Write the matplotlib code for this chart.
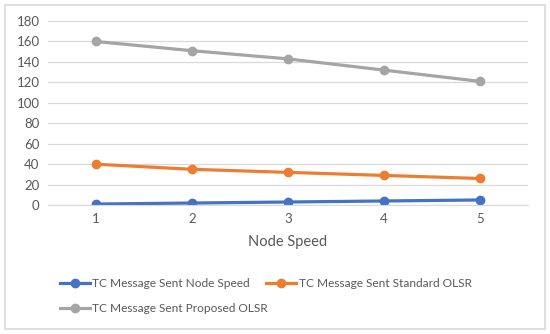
import matplotlib.pyplot as plt
from matplotlib.patches import Rectangle

speed = [1, 2, 3, 4, 5]
node_speed = [1, 2, 3, 4, 5]
standard_olsr = [40, 35, 32, 29, 26]
proposed_olsr = [160, 151, 143, 132, 121]
labels = ["TC Message Sent Node Speed",
          "TC Message Sent Standard OLSR",
          "TC Message Sent Proposed OLSR"]

plt.rcParams['font.family'] = ['Lato', 'DejaVu Sans']
txt = '#595959'

fig = plt.figure(figsize=(5.5, 3.34), dpi=100)
ax = fig.add_axes([0.087, 0.386, 0.873, 0.551])

l1, = ax.plot(speed, node_speed, color='#4472C4', lw=2.3, marker='o', ms=6, label=labels[0])
l2, = ax.plot(speed, standard_olsr, color='#ED7D31', lw=2.3, marker='o', ms=6, label=labels[1])
l3, = ax.plot(speed, proposed_olsr, color='#A5A5A5', lw=2.3, marker='o', ms=6, label=labels[2])

ax.set_xlim(0.5, 5.5)
ax.set_ylim(0, 180)
ax.set_yticks(range(0, 181, 20))
ax.set_xticks(speed)
ax.grid(axis='y', color='#D9D9D9', lw=0.9)
ax.set_axisbelow(True)
for s in ['top', 'right', 'left']:
    ax.spines[s].set_visible(False)
ax.spines['bottom'].set_color('#D9D9D9')
ax.tick_params(length=0, colors=txt, labelsize=9.5, pad=6)
ax.set_xlabel("Node Speed", color=txt, fontsize=10.5, labelpad=7)

# two legends so the entries flow like the original (row 1: two items, row 2: one)
leg_kw = dict(loc='center left', frameon=False, fontsize=8.6, labelcolor=txt,
              handlelength=2.5, handletextpad=0.2, columnspacing=1.4, borderpad=0)
fig.legend([l1, l2], labels[:2], ncol=2, bbox_to_anchor=(0.098, 0.15), **leg_kw)
fig.legend([l3], labels[2:], bbox_to_anchor=(0.098, 0.075), **leg_kw)

fig.patches.append(Rectangle((0.009, 0.015), 0.982, 0.97, transform=fig.transFigure,
                             fill=False, edgecolor='#D9D9D9', lw=1.2))

fig.savefig('out.png', dpi=100)
